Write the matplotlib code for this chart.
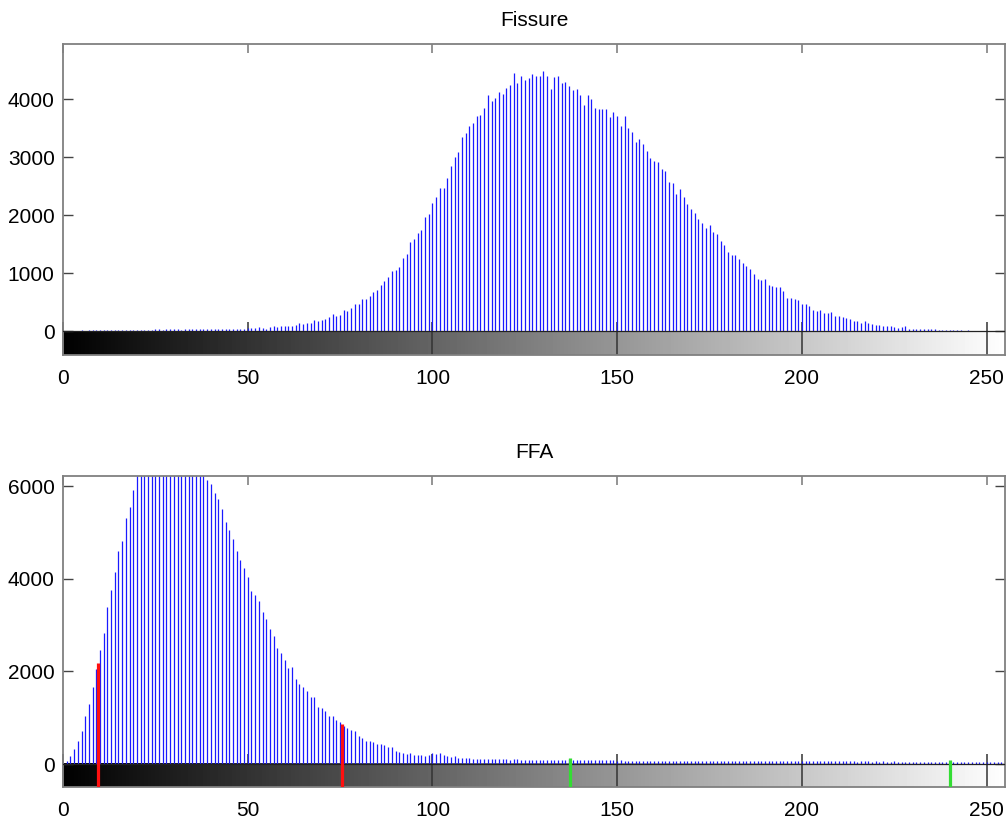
import numpy as np
import matplotlib
matplotlib.use("Agg")
import matplotlib.pyplot as plt

plt.rcParams['font.family'] = ['Liberation Sans', 'DejaVu Sans']

# grey level bins 0..255
niveis = list(range(256))

fissura = [
    8, 10, 12, 9, 11, 14, 12, 13, 15, 14,
    16, 15, 18, 17, 19, 20, 18, 22, 21, 24,
    23, 26, 25, 28, 27, 30, 32, 29, 34, 33,
    30, 32, 28, 34, 31, 36, 33, 38, 35, 40,
    30, 34, 32, 36, 38, 35, 40, 42, 46, 44,
    50, 57, 60, 69, 62, 46, 69, 86, 75, 98,
    90, 98, 95, 109, 150, 132, 150, 150, 201, 178,
    201, 218, 253, 305, 264, 282, 362, 356, 408, 471,
    477, 563, 563, 615, 672, 707, 793, 862, 937, 1034,
    1063, 1109, 1253, 1339, 1540, 1586, 1684, 1741, 1971, 2017,
    2212, 2316, 2471, 2471, 2632, 2845, 3006, 3092, 3339, 3419,
    3540, 3580, 3707, 3724, 3839, 4069, 3971, 4023, 4115, 4086,
    4195, 4241, 4442, 4282, 4397, 4327, 4356, 4431, 4402, 4402,
    4483, 4397, 4172, 4373, 4397, 4282, 4299, 4224, 4155, 4167,
    4069, 3896, 4069, 3994, 3850, 3827, 3830, 3827, 3695, 3782,
    3707, 3534, 3710, 3500, 3430, 3260, 3310, 3230, 3100, 2980,
    2940, 2920, 2800, 2760, 2570, 2550, 2370, 2450, 2320, 2190,
    2100, 2030, 1940, 1870, 1770, 1830, 1710, 1670, 1560, 1480,
    1370, 1320, 1320, 1250, 1170, 1120, 1080, 983, 908, 890,
    908, 793, 782, 764, 764, 695, 580, 580, 563, 546,
    477, 477, 431, 373, 345, 362, 316, 316, 333, 259,
    259, 241, 230, 207, 178, 184, 144, 172, 144, 126,
    109, 109, 98, 98, 92, 75, 63, 75, 86, 46,
    45, 40, 42, 38, 40, 36, 30, 28, 25, 22,
    18, 20, 15, 14, 12, 13, 10, 9, 10, 8,
    8, 7, 9, 6, 7, 6,
]

ffa = [
    30, 72, 166, 318, 491, 722, 1047, 1300, 1661, 2043,
    2455, 2837, 3393, 3769, 4152, 4599, 4816, 5321, 5559, 5920,
    6300, 6550, 6800, 7000, 7150, 7250, 7300, 7350, 7300, 7250,
    7150, 7050, 6950, 6800, 6700, 6550, 6450, 6350, 6250, 6137,
    6050, 5848, 5718, 5523, 5235, 5068, 4873, 4599, 4419, 4245,
    4043, 3740, 3646, 3516, 3285, 3126, 2910, 2758, 2513, 2397,
    2253, 2072, 2094, 1841, 1733, 1675, 1574, 1444, 1444, 1242,
    1213, 1155, 1047, 1047, 953, 900, 830, 780, 736, 722,
    599, 556, 505, 505, 483, 433, 433, 412, 375, 361,
    289, 267, 238, 217, 238, 202, 202, 202, 180, 202,
    231, 210, 231, 195, 180, 159, 165, 140, 130, 123,
    125, 115, 118, 108, 110, 105, 112, 101, 98, 104,
    100, 95, 108, 98, 92, 96, 90, 87, 93, 88,
    90, 86, 92, 85, 88, 84, 90, 100, 86, 84,
    85, 82, 88, 80, 84, 78, 86, 80, 76, 82,
    72, 78, 70, 74, 65, 72, 68, 75, 66, 70,
    68, 72, 65, 70, 74, 66, 64, 70, 68, 62,
    70, 66, 64, 72, 60, 68, 64, 66, 70, 62,
    66, 60, 68, 64, 62, 70, 58, 64, 66, 60,
    64, 62, 58, 66, 60, 64, 62, 58, 66, 60,
    62, 58, 64, 56, 60, 62, 58, 64, 56, 60,
    58, 62, 56, 60, 58, 54, 62, 56, 58, 54,
    58, 52, 56, 54, 50, 56, 52, 54, 48, 52,
    50, 48, 52, 46, 50, 44, 48, 46, 42, 48,
    44, 46, 40, 44, 42, 38, 44, 40, 38, 42,
    40, 36, 40, 38, 36, 38,
]

# threshold markers on the FFA histogram
limiar_vermelho_x = [9.4, 75.4]
limiar_vermelho_y = [2180, 866]
limiar_verde_x = [137.2, 240]
limiar_verde_y = [123, 87]

xticks = [0, 50, 100, 150, 200, 250]
yticks_fissura = [0, 1000, 2000, 3000, 4000]
yticks_ffa = [0, 2000, 4000, 6000]


def Histograma(ax, valores, titulo, ylim, yticks):
    ymin, ymax = ylim
    gradiente = np.linspace(0, 1, 256).reshape(1, -1)
    ax.imshow(gradiente, extent=[0, 255, ymin, 0], aspect='auto',
              cmap='gray', vmin=0, vmax=1, zorder=0)
    ax.vlines(niveis, 0, valores, color='#1a1aff', lw=0.9, zorder=2)
    ax.axhline(0, color='#222222', lw=0.9, zorder=3)
    ax.set_xlim(0, 255)
    ax.set_ylim(ymin, ymax)
    ax.set_xticks(xticks)
    ax.set_yticks(yticks)
    ax.tick_params(axis='x', direction='in', length=24, width=1.1,
                   color='#333333', labelsize=15, pad=10, bottom=True, top=False)
    ax.tick_params(axis='y', direction='in', length=7, width=1.0,
                   color='#444444', labelsize=15, pad=6, left=True, right=True)
    topo = ax.secondary_xaxis('top')
    topo.set_xticks(xticks)
    topo.tick_params(direction='in', length=6.5, width=1.1, color='#777777',
                     labeltop=False)
    topo.spines['top'].set_visible(False)
    for s in ax.spines.values():
        s.set_color('#808080')
        s.set_linewidth(1.3)
    ax.set_title(titulo, fontsize=15, pad=13)


fig = plt.figure(figsize=(10.07, 8.25), dpi=100)
ax1 = fig.add_axes([0.0626, 0.5697, 0.9355, 0.377])
ax2 = fig.add_axes([0.0626, 0.046, 0.9355, 0.377])

Histograma(ax1, fissura, 'Fissure', (-410, 4950), yticks_fissura)
Histograma(ax2, ffa, 'FFA', (-498, 6225), yticks_ffa)

ax2.vlines(limiar_vermelho_x, -498, limiar_vermelho_y, color='#ff1010', lw=2.3, zorder=4)
ax2.vlines(limiar_verde_x, -498, limiar_verde_y, color='#33dd33', lw=2.3, zorder=4)

fig.savefig('out.png', dpi=100)
